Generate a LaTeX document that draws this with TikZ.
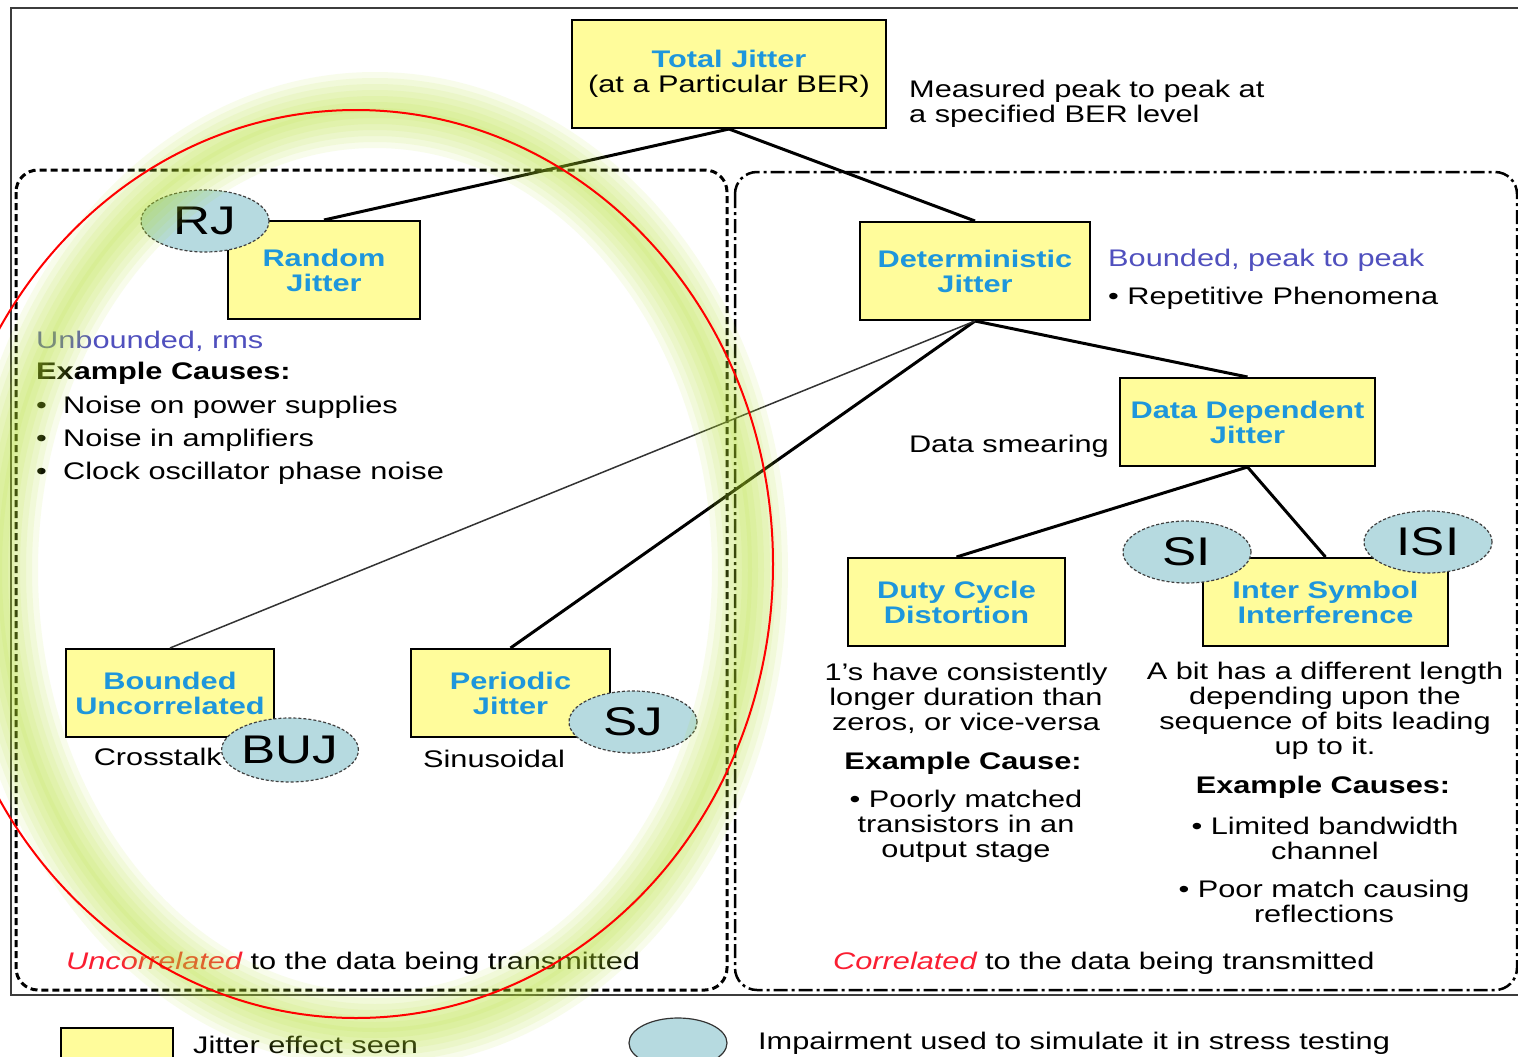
\documentclass[tikz,border=0pt]{standalone}
\usepackage{fontspec}
\setmainfont{Liberation Sans}[FakeStretch=1.28]
\usetikzlibrary{shapes.geometric}

\definecolor{boxfill}{RGB}{255,252,155}
\definecolor{titleblue}{RGB}{30,150,220}
\definecolor{notepurple}{RGB}{80,80,190}
\definecolor{ovalfill}{RGB}{182,218,224}
\definecolor{glowgreen}{RGB}{180,225,40}
\definecolor{framegray}{RGB}{60,60,60}
\definecolor{labelred}{RGB}{250,30,50}

\newcommand{\bodyfont}{\fontsize{24}{25}\selectfont}
\newcommand{\ovalfont}{\fontsize{40}{40}\selectfont}

\begin{document}
\begin{tikzpicture}[x=1pt,y=-1pt,
  jbox/.style={draw=black, line width=2, fill=boxfill, text=titleblue,
    font=\bodyfont\bfseries, align=center, inner sep=0},
  oval/.style={ellipse, draw=black!75, densely dashed, line width=1.2,
    fill=ovalfill, font=\ovalfont, inner sep=0,
    minimum width=128, minimum height=62},
  txt/.style={inner sep=0, font=\bodyfont},
  link/.style={draw=black, line width=3},
  thinlink/.style={draw=black!80, line width=1.5},
  leftzone/.style={draw=black, line width=3, rounded corners=22,
    dash pattern=on 7pt off 4pt},
  rightzone/.style={draw=black, line width=2.5, rounded corners=22,
    dash pattern=on 14pt off 4pt on 3pt off 4pt},
  glow/.style={glowgreen, opacity=0.09}]

\useasboundingbox (0,0) rectangle (1518,1057);
\fill[white] (0,0) rectangle (1518,1057);

% outer frame
\draw[framegray, line width=2] (1518,8) -- (11,8) -- (11,995) -- (1518,995);

% uncorrelated / correlated zones
\draw[leftzone] (16,170) rectangle (727,990);
\draw[rightzone] (735,172) rectangle (1517,990);

% jitter boxes
\node[jbox, minimum width=314, minimum height=108] (tj) at (729,74)
  {Total Jitter\\{\mdseries\color{black}(at a Particular BER)}};
\node[jbox, minimum width=192, minimum height=98] (rj) at (324,270) {Random\\Jitter};
\node[jbox, minimum width=230, minimum height=98] (dj) at (975,271) {Deterministic\\Jitter};
\node[jbox, minimum width=255, minimum height=88] (ddj) at (1247.5,422) {Data Dependent\\Jitter};
\node[jbox, minimum width=217, minimum height=88] (dcd) at (956.5,602) {Duty Cycle\\Distortion};
\node[jbox, minimum width=245, minimum height=88] (isi) at (1325.5,602) {Inter Symbol\\Interference};
\node[jbox, minimum width=208, minimum height=88] (buj) at (170,693) {Bounded\\Uncorrelated};
\node[jbox, minimum width=199, minimum height=88] (pj) at (510.5,693) {Periodic\\Jitter};

% tree connectors
\draw[link] (tj.south) -- (rj.north);
\draw[link] (tj.south) -- (dj.north);
\draw[link] (dj.south) -- (ddj.north);
\draw[link] (dj.south) -- (pj.north);
\draw[thinlink] (dj.south) -- (buj.north);
\draw[link] (ddj.south) -- (dcd.north);
\draw[link] (ddj.south) -- (isi.north);

% stress-test impairments
\node[oval] (rjo) at (205,221) {RJ};
\node[oval, minimum height=64] (bujo) at (290,750) {BUJ};
\node[oval] (sjo) at (633,722) {SJ};
\node[oval] (sio) at (1187,552) {SI};
\node[oval] (isio) at (1428,542) {ISI};

% annotations
\node[txt, anchor=west, align=left] (tjnote) at (909,104)
  {Measured peak to peak at\\a specified BER level};
\node[txt, anchor=west, text=notepurple] (djnote) at (1108,260) {Bounded, peak to peak};
\node[txt, anchor=west] (djrep) at (1108,298) {• Repetitive Phenomena};
\node[txt, anchor=east] (smear) at (1109,446) {Data smearing};

\node[txt, anchor=west, text=notepurple] (rjnote) at (36,341) {Unbounded, rms};
\node[txt, anchor=west, font=\bodyfont\bfseries] (rjcause) at (36,373) {Example Causes:};
\node[txt, anchor=west] (rjc1) at (36,407) {\makebox[27pt][l]{•}Noise on power supplies};
\node[txt, anchor=west] (rjc2) at (36,440) {\makebox[27pt][l]{•}Noise in amplifiers};
\node[txt, anchor=west] (rjc3) at (36,473) {\makebox[27pt][l]{•}Clock oscillator phase noise};

\node[txt, align=center] (dcdnote) at (966,698)
  {1’s have consistently\\longer duration than\\zeros, or vice-versa};
\node[txt, font=\bodyfont\bfseries] (dcdcause) at (963,763) {Example Cause:};
\node[txt, align=center] (dcdc1) at (966,826)
  {• Poorly matched\\transistors in an\\output stage};

\node[txt, align=center] (isinote) at (1325,711)
  {A bit has a different length\\depending upon the\\sequence of bits leading\\up to it.};
\node[txt, font=\bodyfont\bfseries] (isicause) at (1323,787) {Example Causes:};
\node[txt, align=center] (isic1) at (1325,838) {• Limited bandwidth\\channel};
\node[txt, align=center] (isic2) at (1324,901) {• Poor match causing\\reflections};

\node[txt, anchor=east] (xtalk) at (222,757) {Crosstalk};
\node[txt] (sinus) at (494,759) {Sinusoidal};

\node[txt, anchor=west] (uncor) at (66,963)
  {{\color{labelred}\itshape Uncorrelated} to the data being transmitted};
\node[txt, anchor=west] (cor) at (833,963)
  {{\color{labelred}\itshape Correlated} to the data being transmitted};

% legend
\node[jbox, minimum width=112, minimum height=44, anchor=north west] (legbox) at (60,1027) {};
\node[txt, anchor=west] (legboxtxt) at (193,1045) {Jitter effect seen};
\node[oval, solid, draw=black!80, minimum width=98, minimum height=50] (legoval) at (678,1043) {};
\node[txt, anchor=west] (legovaltxt) at (758,1043) {Impairment used to simulate it in stress testing};

% highlighted group: soft glow with a red outline
\foreach \w in {76,64,...,4}
  \draw[glow, line width=\w] (375,570) ellipse [x radius=375, y radius=460];
\draw[red, line width=2] (356,564) ellipse [x radius=417, y radius=454];

\end{tikzpicture}
\end{document}
